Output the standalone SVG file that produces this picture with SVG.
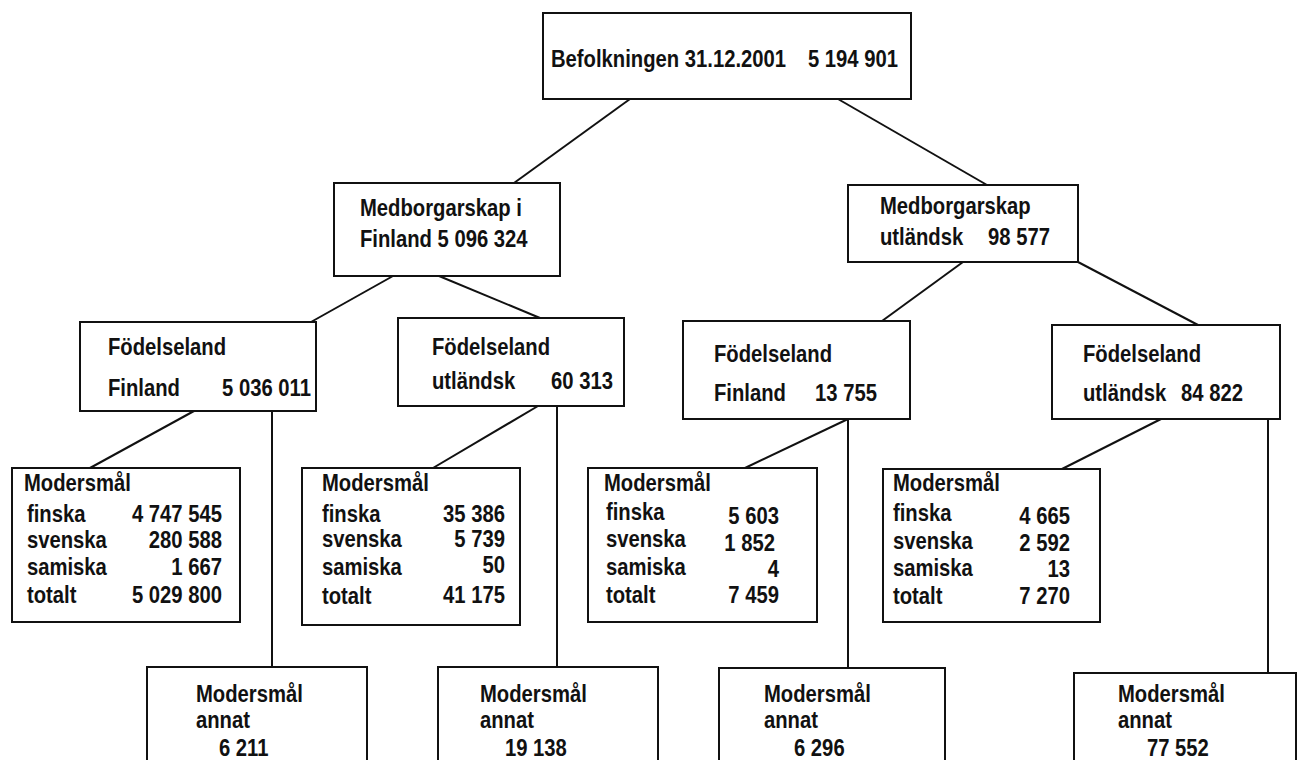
<svg xmlns="http://www.w3.org/2000/svg" width="1304" height="760" viewBox="0 0 1304 760">
<style>
rect{fill:#fff;stroke:#111;stroke-width:2}
line{stroke:#111;stroke-width:2}
text{font-family:"Liberation Sans",Arial,sans-serif;font-size:23px;font-weight:bold;fill:#111;transform-box:fill-box;transform-origin:0 0;transform:scaleX(0.88)}
.e{text-anchor:end;transform-origin:100% 0}
</style>
<rect x="0" y="0" width="1304" height="760" style="stroke:none"/>
<g id="connectors">
<line x1="630" y1="99" x2="514" y2="183"/>
<line x1="838" y1="99" x2="987" y2="185"/>
<line x1="393" y1="276" x2="311" y2="322"/>
<line x1="439" y1="276" x2="540" y2="318"/>
<line x1="963" y1="262" x2="882" y2="321"/>
<line x1="1078" y1="262" x2="1198" y2="325"/>
<line x1="194" y1="411" x2="90" y2="468"/>
<line x1="272" y1="411" x2="272" y2="667"/>
<line x1="538" y1="406" x2="433" y2="468"/>
<line x1="557" y1="406" x2="557" y2="667"/>
<line x1="848" y1="419" x2="745" y2="468"/>
<line x1="848" y1="419" x2="848" y2="668"/>
<line x1="1161" y1="419" x2="1062" y2="469"/>
<line x1="1268" y1="419" x2="1268" y2="673"/>
</g>
<g id="top">
<rect x="543" y="13" width="368" height="86"/>
<text x="551" y="67">Befolkningen 31.12.2001</text>
<text x="898" y="67" class="e">5 194 901</text>
</g>
<g id="medb-fin">
<rect x="334" y="183" width="226" height="93"/>
<text x="360" y="216">Medborgarskap i</text>
<text x="360" y="247">Finland 5 096 324</text>
</g>
<g id="medb-utl">
<rect x="848" y="185" width="230" height="77"/>
<text x="880" y="214">Medborgarskap</text>
<text x="880" y="245">utländsk</text>
<text x="1050" y="245" class="e">98 577</text>
</g>
<g id="fod-fin-1">
<rect x="80" y="322" width="236" height="89"/>
<text x="108" y="355">Födelseland</text>
<text x="108" y="396">Finland</text>
<text x="311" y="396" class="e">5 036 011</text>
</g>
<g id="fod-utl-1">
<rect x="398" y="318" width="226" height="88"/>
<text x="432" y="355">Födelseland</text>
<text x="432" y="389">utländsk</text>
<text x="613" y="389" class="e">60 313</text>
</g>
<g id="fod-fin-2">
<rect x="683" y="321" width="227" height="98"/>
<text x="714" y="362">Födelseland</text>
<text x="714" y="401">Finland</text>
<text x="877" y="401" class="e">13 755</text>
</g>
<g id="fod-utl-2">
<rect x="1052" y="325" width="228" height="94"/>
<text x="1083" y="362">Födelseland</text>
<text x="1083" y="401">utländsk</text>
<text x="1243" y="401" class="e">84 822</text>
</g>
<g id="mod-1">
<rect x="12" y="468" width="228" height="154"/>
<text x="24" y="491">Modersmål</text>
<text x="27" y="522">finska</text><text x="222" y="522" class="e">4 747 545</text>
<text x="27" y="548">svenska</text><text x="222" y="548" class="e">280 588</text>
<text x="27" y="575">samiska</text><text x="222" y="575" class="e">1 667</text>
<text x="27" y="603">totalt</text><text x="222" y="603" class="e">5 029 800</text>
</g>
<g id="mod-2">
<rect x="302" y="468" width="218" height="157"/>
<text x="322" y="491">Modersmål</text>
<text x="322" y="522">finska</text><text x="505" y="522" class="e">35 386</text>
<text x="322" y="547">svenska</text><text x="505" y="547" class="e">5 739</text>
<text x="322" y="575">samiska</text><text x="505" y="573" class="e">50</text>
<text x="322" y="604">totalt</text><text x="505" y="603" class="e">41 175</text>
</g>
<g id="mod-3">
<rect x="588" y="468" width="229" height="154"/>
<text x="604" y="491">Modersmål</text>
<text x="606" y="520">finska</text><text x="779" y="524" class="e">5 603</text>
<text x="606" y="547">svenska</text><text x="775" y="551" class="e">1 852</text>
<text x="606" y="575">samiska</text><text x="779" y="577" class="e">4</text>
<text x="606" y="603">totalt</text><text x="779" y="603" class="e">7 459</text>
</g>
<g id="mod-4">
<rect x="883" y="469" width="217" height="153"/>
<text x="893" y="491">Modersmål</text>
<text x="893" y="521">finska</text><text x="1070" y="524" class="e">4 665</text>
<text x="893" y="549">svenska</text><text x="1070" y="551" class="e">2 592</text>
<text x="893" y="576">samiska</text><text x="1070" y="577" class="e">13</text>
<text x="893" y="604">totalt</text><text x="1070" y="604" class="e">7 270</text>
</g>
<g id="annat-1">
<rect x="147" y="667" width="220" height="120"/>
<text x="196" y="702">Modersmål</text>
<text x="196" y="728">annat</text>
<text x="219" y="756">6 211</text>
</g>
<g id="annat-2">
<rect x="438" y="667" width="220" height="120"/>
<text x="480" y="702">Modersmål</text>
<text x="480" y="728">annat</text>
<text x="505" y="756">19 138</text>
</g>
<g id="annat-3">
<rect x="719" y="668" width="226" height="120"/>
<text x="764" y="702">Modersmål</text>
<text x="764" y="728">annat</text>
<text x="794" y="756">6 296</text>
</g>
<g id="annat-4">
<rect x="1074" y="673" width="222" height="120"/>
<text x="1118" y="702">Modersmål</text>
<text x="1118" y="728">annat</text>
<text x="1147" y="756">77 552</text>
</g>
</svg>
